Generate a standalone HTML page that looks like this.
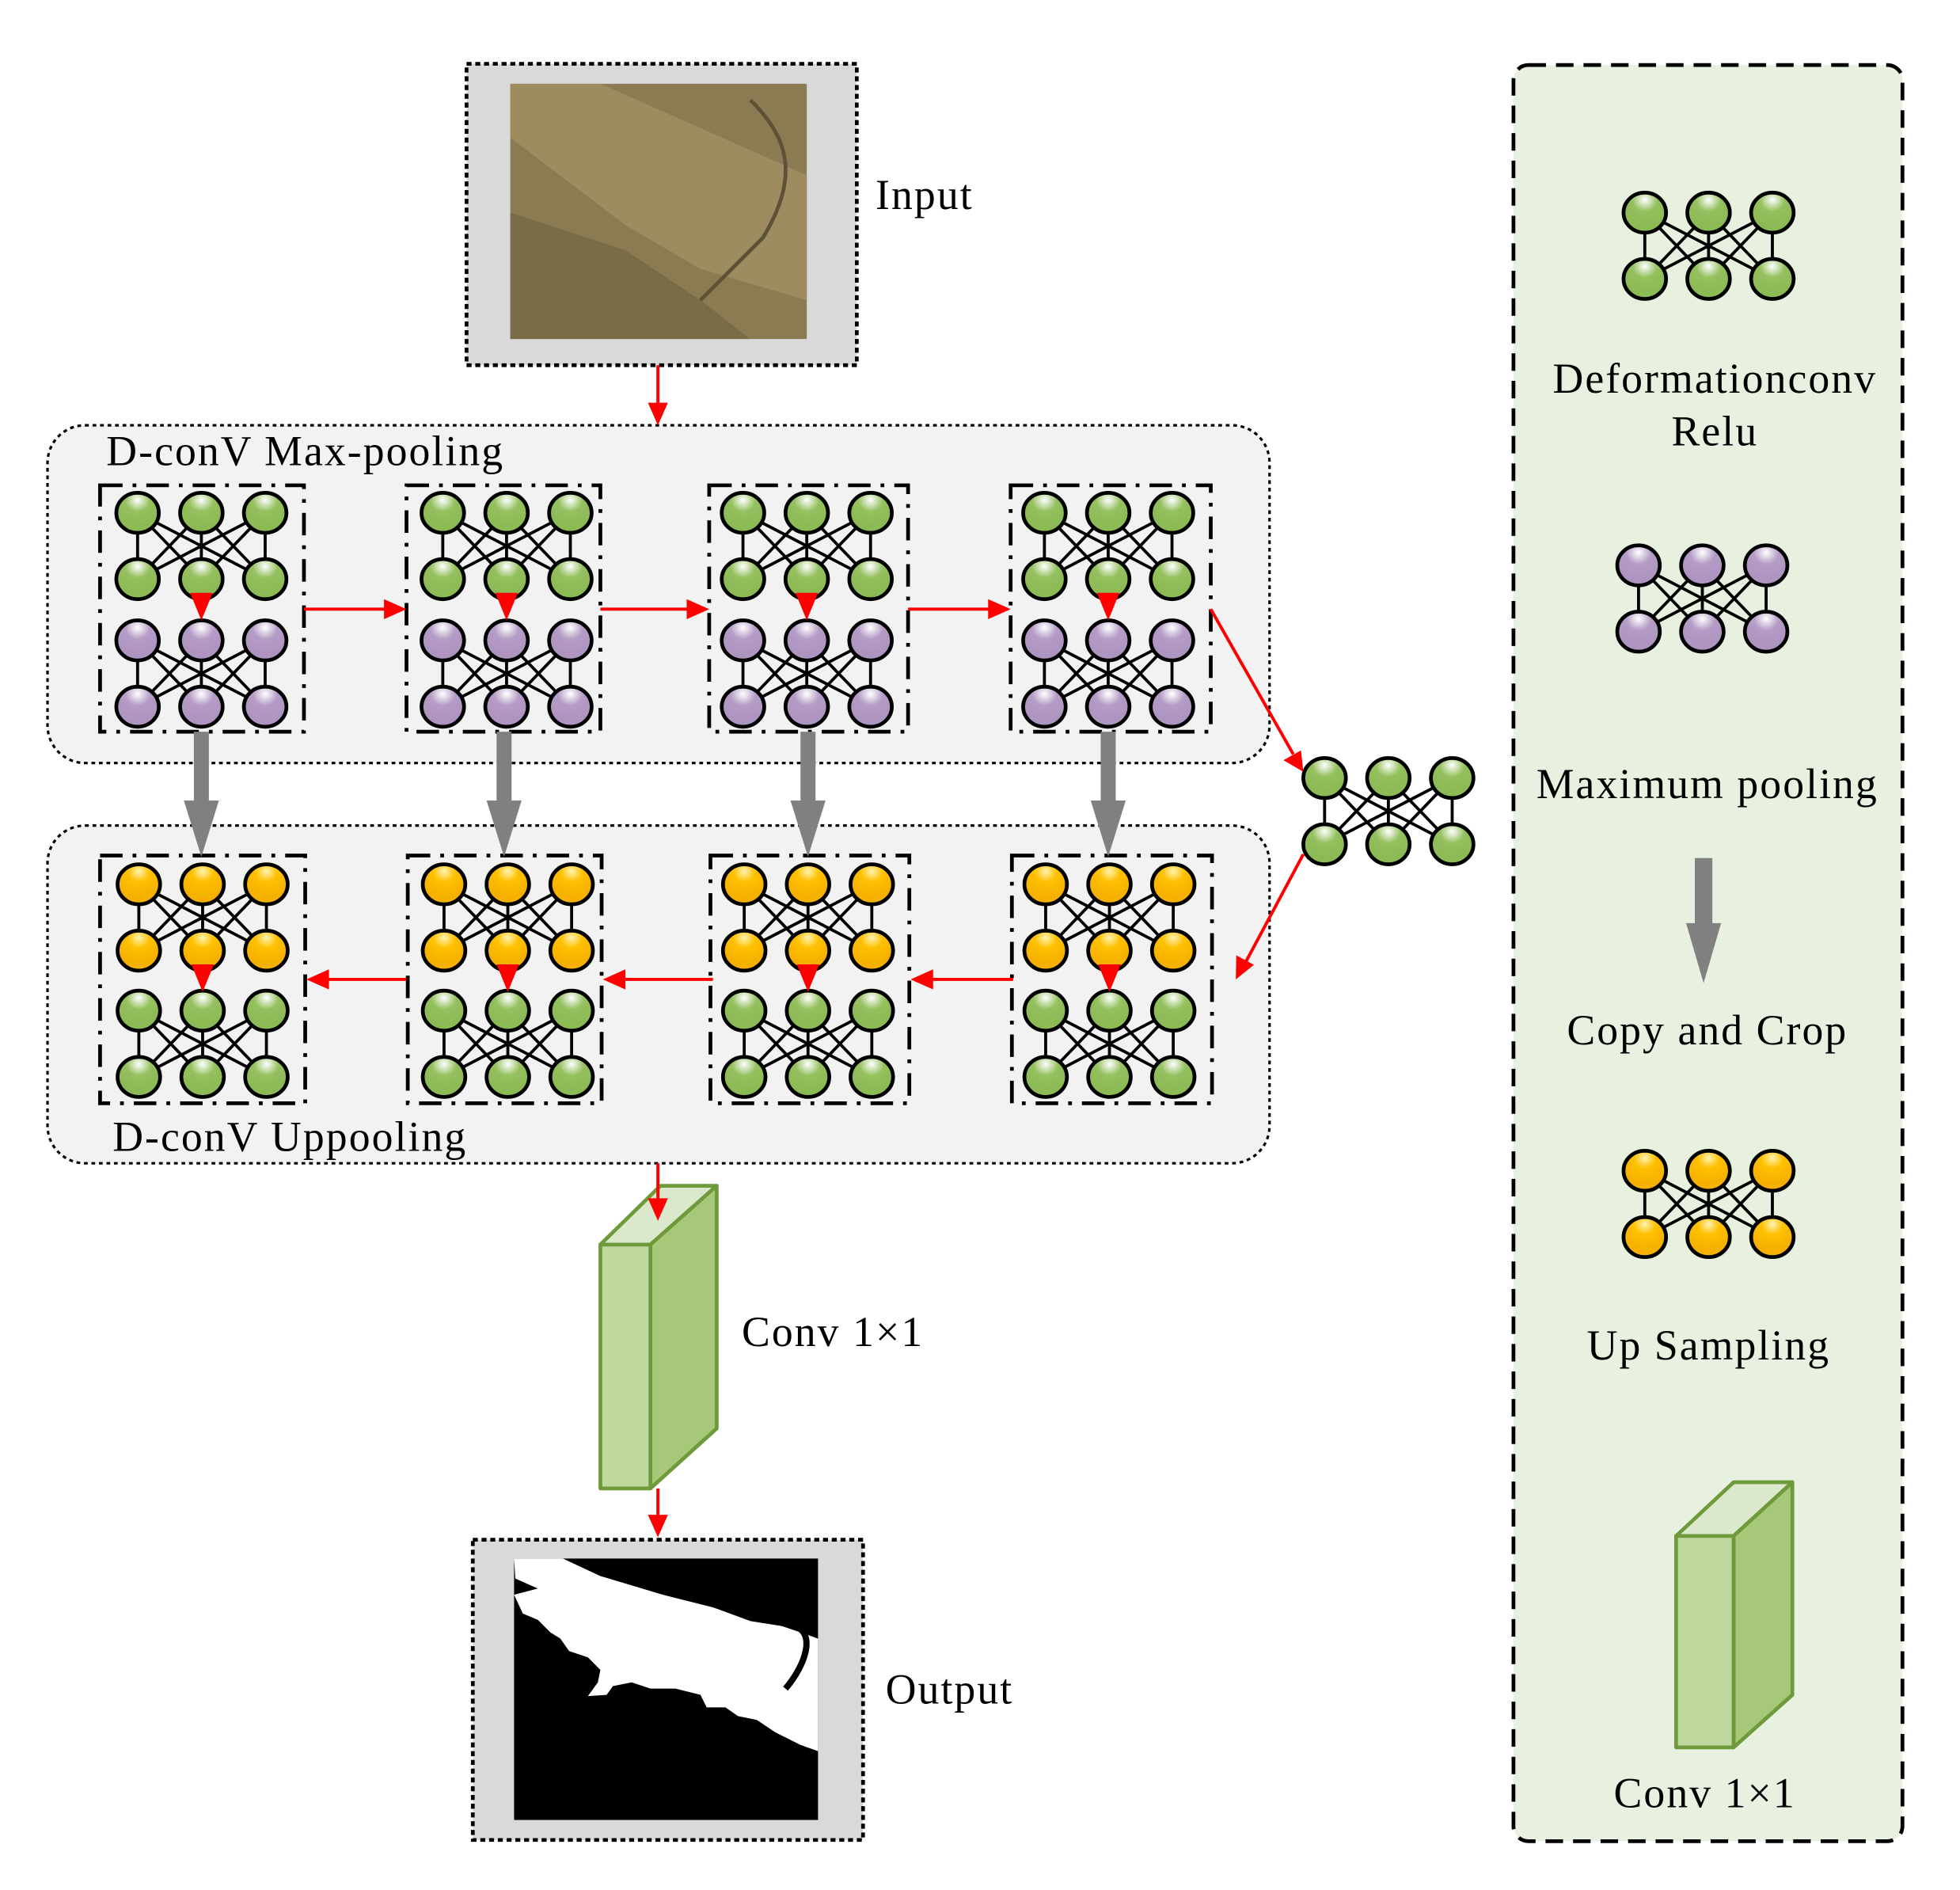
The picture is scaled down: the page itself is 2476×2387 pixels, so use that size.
<!DOCTYPE html>
<html><head><meta charset="utf-8"><style>html,body{margin:0;padding:0;background:#fff}svg{display:block}</style></head>
<body>
<svg width="2476" height="2387" viewBox="0 0 1567 1511" preserveAspectRatio="none" xmlns="http://www.w3.org/2000/svg" font-family="'Liberation Serif', serif" font-size="34" letter-spacing="1.3">
<defs>
<radialGradient id="gG" cx="50%" cy="18%" r="65%"><stop offset="0" stop-color="#fff"/><stop offset="0.45" stop-color="#94c05e"/><stop offset="1" stop-color="#8cba55"/></radialGradient>
<radialGradient id="gP" cx="50%" cy="18%" r="65%"><stop offset="0" stop-color="#fff"/><stop offset="0.45" stop-color="#b59cc6"/><stop offset="1" stop-color="#ae95c0"/></radialGradient>
<radialGradient id="gO" cx="50%" cy="18%" r="65%"><stop offset="0" stop-color="#fff3b0"/><stop offset="0.4" stop-color="#ffc000"/><stop offset="1" stop-color="#f5b000"/></radialGradient>
<g id="lines" stroke="#000" stroke-width="2.4">
<line x1="0" y1="0" x2="0" y2="53"/><line x1="0" y1="0" x2="51" y2="53"/><line x1="0" y1="0" x2="102" y2="53"/>
<line x1="51" y1="0" x2="0" y2="53"/><line x1="51" y1="0" x2="51" y2="53"/><line x1="51" y1="0" x2="102" y2="53"/>
<line x1="102" y1="0" x2="0" y2="53"/><line x1="102" y1="0" x2="51" y2="53"/><line x1="102" y1="0" x2="102" y2="53"/>
</g>
<g id="hG"><use href="#lines"/><g fill="url(#gG)" stroke="#000" stroke-width="3">
<ellipse cx="0" cy="0" rx="17" ry="16"/><ellipse cx="51" cy="0" rx="17" ry="16"/><ellipse cx="102" cy="0" rx="17" ry="16"/>
<ellipse cx="0" cy="53" rx="17" ry="16"/><ellipse cx="51" cy="53" rx="17" ry="16"/><ellipse cx="102" cy="53" rx="17" ry="16"/></g></g>
<g id="hP"><use href="#lines"/><g fill="url(#gP)" stroke="#000" stroke-width="3">
<ellipse cx="0" cy="0" rx="17" ry="16"/><ellipse cx="51" cy="0" rx="17" ry="16"/><ellipse cx="102" cy="0" rx="17" ry="16"/>
<ellipse cx="0" cy="53" rx="17" ry="16"/><ellipse cx="51" cy="53" rx="17" ry="16"/><ellipse cx="102" cy="53" rx="17" ry="16"/></g></g>
<g id="hO"><use href="#lines"/><g fill="url(#gO)" stroke="#000" stroke-width="3">
<ellipse cx="0" cy="0" rx="17" ry="16"/><ellipse cx="51" cy="0" rx="17" ry="16"/><ellipse cx="102" cy="0" rx="17" ry="16"/>
<ellipse cx="0" cy="53" rx="17" ry="16"/><ellipse cx="51" cy="53" rx="17" ry="16"/><ellipse cx="102" cy="53" rx="17" ry="16"/></g></g>
<polygon id="tri" points="-9,0 9,0 0,22" fill="#f00"/>
<g id="gray"><rect x="-6" y="0" width="12" height="58" fill="#808080"/><polygon points="-14,55 14,55 0,100" fill="#808080"/></g>
<polygon id="ahD" points="-8,-18 8,-18 0,0" fill="#f00"/>
<polygon id="ahR" points="-18,-8 -18,8 0,0" fill="#f00"/>
<polygon id="ahL" points="18,-8 18,8 0,0" fill="#f00"/>
</defs>

<!-- Input -->
<rect x="373" y="51" width="312" height="241" fill="#d9d9d9" stroke="#000" stroke-width="3" stroke-dasharray="4 3"/>
<rect x="408" y="67" width="237" height="204" fill="#8a7b52"/>
<polygon points="408,67 480,67 645,140 645,240 560,215 500,180 408,110" fill="#9c8c60"/>
<polygon points="408,170 500,200 560,240 600,271 408,271" fill="#7a6c46"/>
<path d="M600,80 C630,110 640,140 610,190 L560,240" stroke="#5e5236" stroke-width="3" fill="none"/>
<text x="700" y="167">Input</text>

<!-- Top panel -->
<rect x="38" y="340" width="977" height="270" rx="30" fill="#f2f2f2" stroke="#000" stroke-width="2" stroke-dasharray="3 3"/>
<text x="85" y="372">D-conV Max-pooling</text>
<g fill="none" stroke="#000" stroke-width="3" stroke-dasharray="18 8 3 8">
<rect x="80" y="388" width="163" height="197"/><rect x="325" y="388" width="155" height="197"/>
<rect x="567" y="388" width="159" height="197"/><rect x="808" y="388" width="160" height="197"/>
</g>
<use href="#hG" x="110" y="410"/><use href="#hP" x="110" y="512"/><use href="#tri" x="161" y="474"/>
<use href="#hG" x="354" y="410"/><use href="#hP" x="354" y="512"/><use href="#tri" x="405" y="474"/>
<use href="#hG" x="594" y="410"/><use href="#hP" x="594" y="512"/><use href="#tri" x="645" y="474"/>
<use href="#hG" x="835" y="410"/><use href="#hP" x="835" y="512"/><use href="#tri" x="886" y="474"/>

<!-- Bottom panel -->
<rect x="38" y="660" width="977" height="270" rx="30" fill="#f2f2f2" stroke="#000" stroke-width="2" stroke-dasharray="3 3"/>
<text x="90" y="920">D-conV Uppooling</text>
<g fill="none" stroke="#000" stroke-width="3" stroke-dasharray="18 8 3 8">
<rect x="80" y="684" width="164" height="198"/><rect x="326" y="684" width="155" height="198"/>
<rect x="568" y="684" width="159" height="198"/><rect x="809" y="684" width="160" height="198"/>
</g>
<use href="#hO" x="111" y="707"/><use href="#hG" x="111" y="808"/><use href="#tri" x="162" y="771"/>
<use href="#hO" x="355" y="707"/><use href="#hG" x="355" y="808"/><use href="#tri" x="406" y="771"/>
<use href="#hO" x="595" y="707"/><use href="#hG" x="595" y="808"/><use href="#tri" x="646" y="771"/>
<use href="#hO" x="836" y="707"/><use href="#hG" x="836" y="808"/><use href="#tri" x="887" y="771"/>

<!-- gray arrows -->
<use href="#gray" x="161" y="585"/><use href="#gray" x="403" y="585"/><use href="#gray" x="646" y="585"/><use href="#gray" x="886" y="585"/>

<!-- middle node group -->
<use href="#hG" x="1059" y="622"/>

<!-- conv -->
<g stroke="#6e9a3b" stroke-width="3" stroke-linejoin="round">
<polygon points="480,995 528,948 573,948 520,995" fill="#dbe8cc"/>
<polygon points="520,995 573,948 573,1142 520,1190" fill="#a6c878"/>
<rect x="480" y="995" width="40" height="195" fill="#bfd89d"/>
</g>
<text x="593" y="1076">Conv 1×1</text>

<!-- Red arrows -->
<g stroke="#f00" stroke-width="2.5">
<line x1="526" y1="292" x2="526" y2="326"/>
<line x1="243" y1="487" x2="310" y2="487"/><line x1="480" y1="487" x2="552" y2="487"/><line x1="726" y1="487" x2="793" y2="487"/>
<line x1="968" y1="487" x2="1034" y2="603"/>
<line x1="1042" y1="683" x2="996" y2="769"/>
<line x1="325" y1="783" x2="260" y2="783"/><line x1="570" y1="783" x2="497" y2="783"/><line x1="810" y1="783" x2="743" y2="783"/>
<line x1="526" y1="930" x2="526" y2="960"/>
<line x1="526" y1="1190" x2="526" y2="1214"/>
</g>
<use href="#ahD" x="526" y="340"/>
<use href="#ahR" x="325" y="487"/><use href="#ahR" x="567" y="487"/><use href="#ahR" x="808" y="487"/>
<polygon points="1042,617 1040.1,599.9 1026.1,607.8" fill="#f00"/>
<polygon points="988,783 1002.5,771.3 988.4,763.7" fill="#f00"/>
<use href="#ahL" x="245" y="783"/><use href="#ahL" x="482" y="783"/><use href="#ahL" x="728" y="783"/>
<use href="#ahD" x="526" y="976"/>
<use href="#ahD" x="526" y="1229"/>

<!-- Output -->
<rect x="378" y="1231" width="312" height="240" fill="#d9d9d9" stroke="#000" stroke-width="3" stroke-dasharray="4 3"/>
<rect x="411" y="1246" width="243" height="209" fill="#000"/>
<polygon points="411,1246 450,1246 480,1260 530,1275 570,1285 600,1296 625,1300 640,1305 654,1310 654,1400 640,1395 620,1385 605,1375 590,1372 580,1365 565,1365 560,1355 540,1350 520,1350 505,1345 490,1348 485,1355 470,1356 478,1345 480,1335 470,1325 455,1320 448,1310 440,1305 430,1295 418,1290 411,1275 430,1270 412,1262" fill="#fff"/>
<path d="M635,1300 C652,1305 645,1330 628,1350" stroke="#000" stroke-width="5" fill="none"/>
<text x="708" y="1362">Output</text>

<!-- Legend -->
<rect x="1210" y="52" width="311" height="1420" rx="12" fill="#e8f1df" stroke="#000" stroke-width="3" stroke-dasharray="14 8"/>
<use href="#hG" x="1315" y="170"/>
<text x="1371" y="314" text-anchor="middle">Deformationconv</text>
<text x="1371" y="356" text-anchor="middle">Relu</text>
<use href="#hP" x="1310" y="452"/>
<text x="1365" y="638" text-anchor="middle">Maximum pooling</text>
<g transform="translate(1362,686)"><rect x="-7" y="0" width="14" height="55" fill="#808080"/><polygon points="-14,52 14,52 0,100" fill="#808080"/></g>
<text x="1365" y="835" text-anchor="middle">Copy and Crop</text>
<use href="#hO" x="1315" y="936"/>
<text x="1366" y="1087" text-anchor="middle">Up Sampling</text>
<g stroke="#6e9a3b" stroke-width="3" stroke-linejoin="round">
<polygon points="1340,1228 1386,1185 1433,1185 1386,1228" fill="#dbe8cc"/>
<polygon points="1386,1228 1433,1185 1433,1355 1386,1397" fill="#a6c878"/>
<rect x="1340" y="1228" width="46" height="169" fill="#bfd89d"/>
</g>
<text x="1363" y="1445" text-anchor="middle">Conv 1×1</text>
</svg>
</body></html>
